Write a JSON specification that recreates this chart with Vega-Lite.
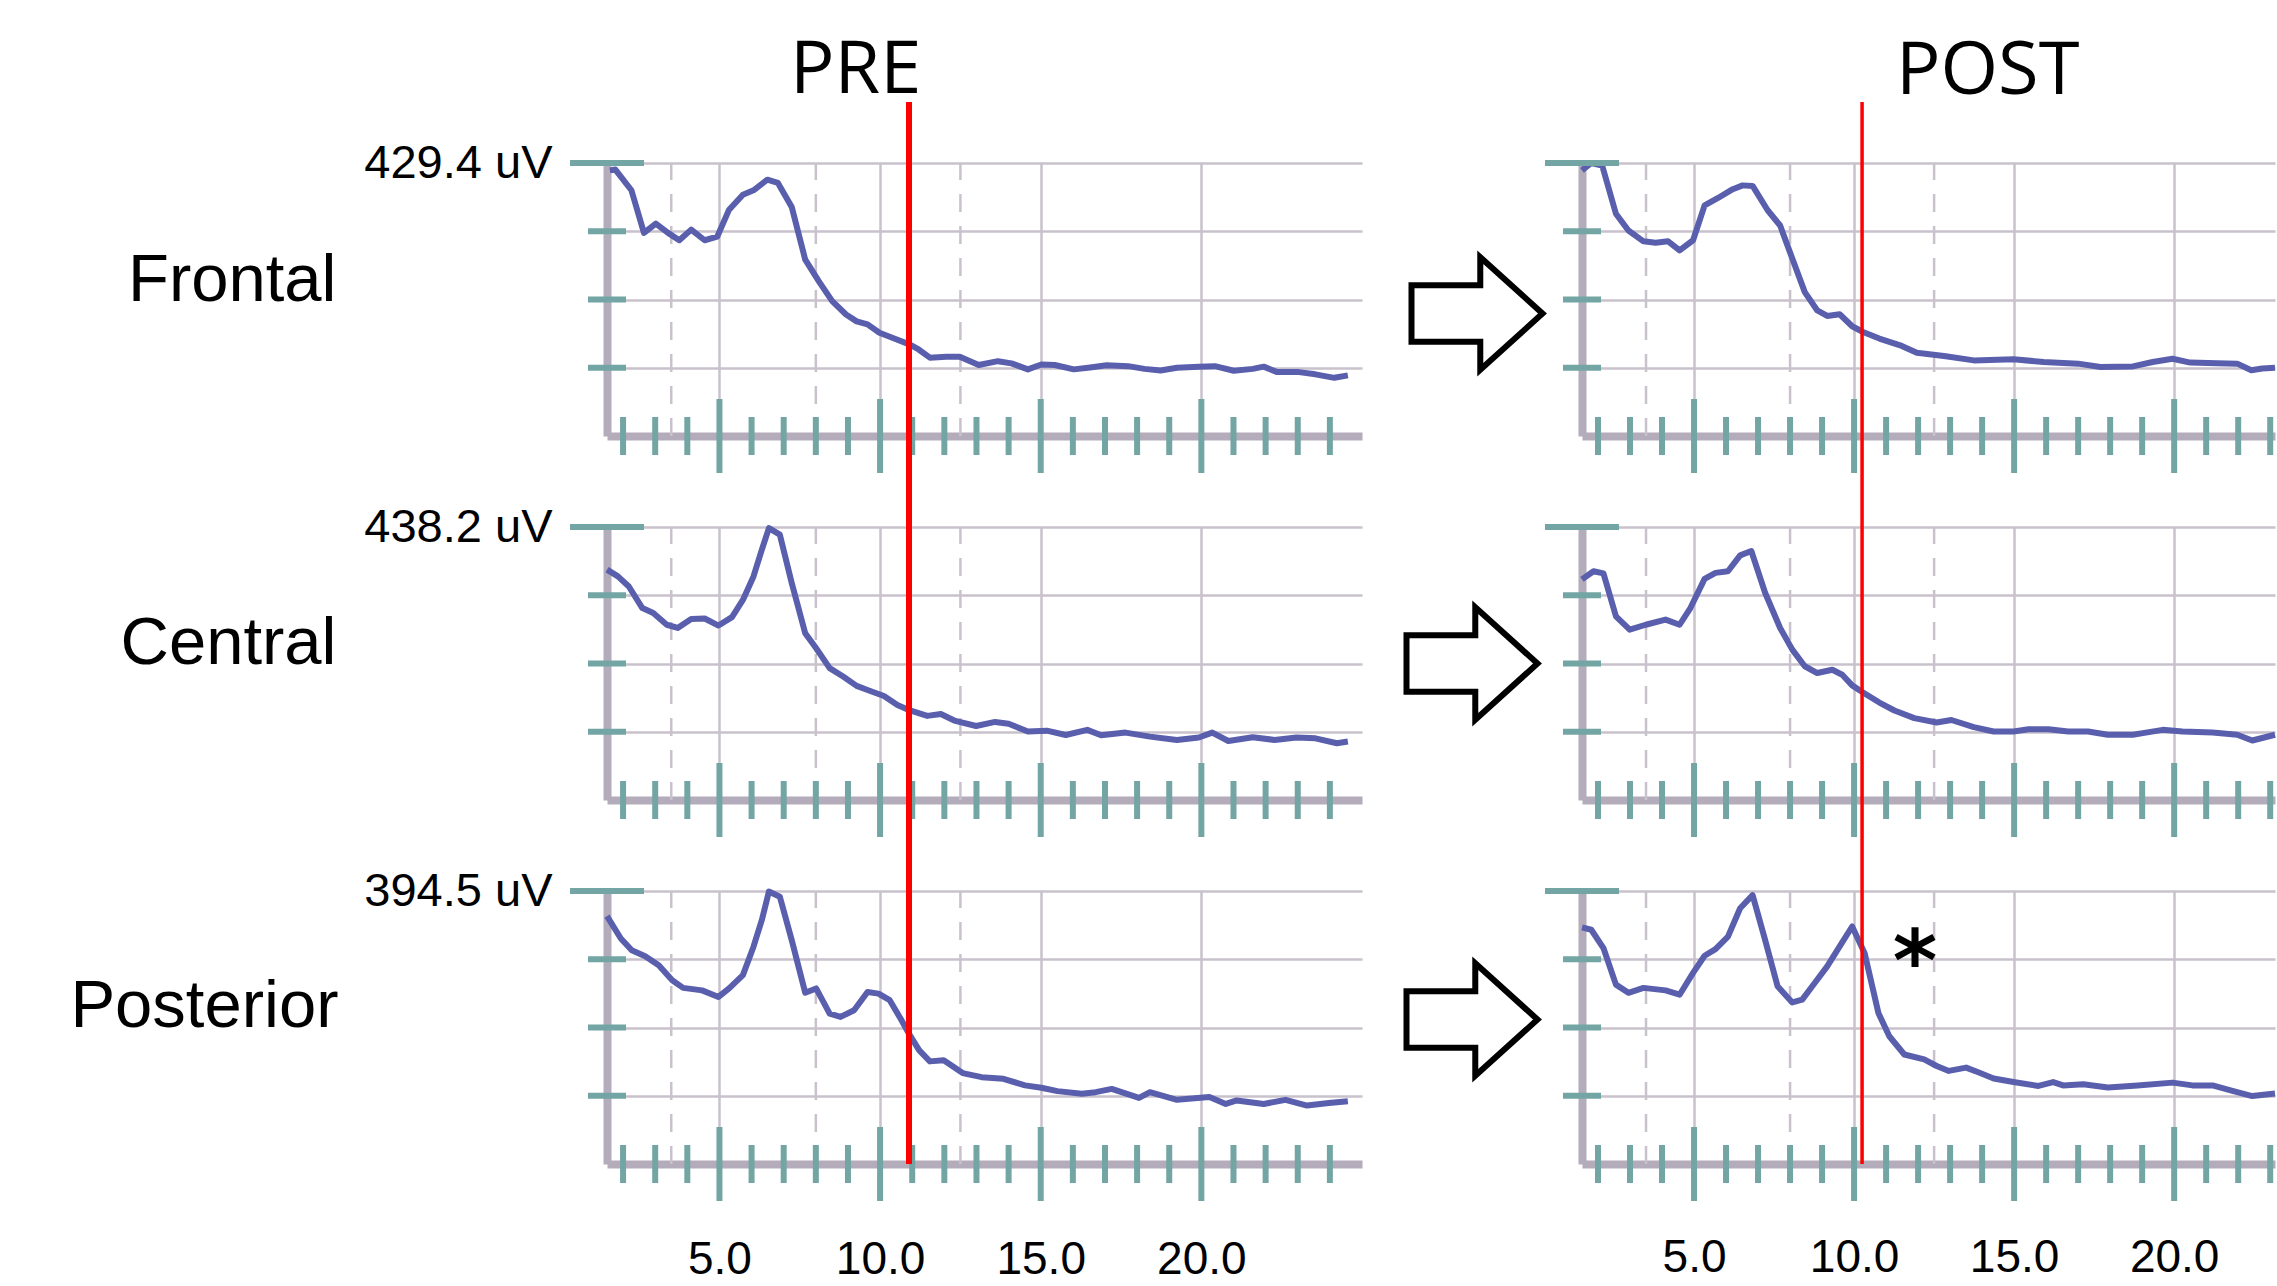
{
  "$schema": "https://vega.github.io/schema/vega-lite/v6.json",
  "background": "white",
  "padding": {"left": 69, "top": 33, "right": 0, "bottom": 0},
  "datasets": {
    "spectra": [
      {"cond":"PRE","region":"Frontal","freq":1.59,"uV":417.8},
      {"cond":"PRE","region":"Frontal","freq":1.76,"uV":419.1},
      {"cond":"PRE","region":"Frontal","freq":2.26,"uV":386.5},
      {"cond":"PRE","region":"Frontal","freq":2.65,"uV":319.5},
      {"cond":"PRE","region":"Frontal","freq":3.02,"uV":334.1},
      {"cond":"PRE","region":"Frontal","freq":3.4,"uV":319.5},
      {"cond":"PRE","region":"Frontal","freq":3.75,"uV":307.9},
      {"cond":"PRE","region":"Frontal","freq":4.12,"uV":324.6},
      {"cond":"PRE","region":"Frontal","freq":4.54,"uV":307.9},
      {"cond":"PRE","region":"Frontal","freq":4.93,"uV":313.5},
      {"cond":"PRE","region":"Frontal","freq":5.3,"uV":356.0},
      {"cond":"PRE","region":"Frontal","freq":5.73,"uV":379.6},
      {"cond":"PRE","region":"Frontal","freq":6.06,"uV":386.5},
      {"cond":"PRE","region":"Frontal","freq":6.49,"uV":403.2},
      {"cond":"PRE","region":"Frontal","freq":6.82,"uV":398.1},
      {"cond":"PRE","region":"Frontal","freq":7.25,"uV":360.3},
      {"cond":"PRE","region":"Frontal","freq":7.67,"uV":277.4},
      {"cond":"PRE","region":"Frontal","freq":8.09,"uV":243.5},
      {"cond":"PRE","region":"Frontal","freq":8.51,"uV":212.1},
      {"cond":"PRE","region":"Frontal","freq":8.94,"uV":191.1},
      {"cond":"PRE","region":"Frontal","freq":9.27,"uV":180.3},
      {"cond":"PRE","region":"Frontal","freq":9.61,"uV":175.6},
      {"cond":"PRE","region":"Frontal","freq":9.98,"uV":162.3},
      {"cond":"PRE","region":"Frontal","freq":10.46,"uV":152.9},
      {"cond":"PRE","region":"Frontal","freq":10.93,"uV":143.8},
      {"cond":"PRE","region":"Frontal","freq":11.2,"uV":136.1},
      {"cond":"PRE","region":"Frontal","freq":11.55,"uV":123.2},
      {"cond":"PRE","region":"Frontal","freq":12.06,"uV":124.5},
      {"cond":"PRE","region":"Frontal","freq":12.48,"uV":124.5},
      {"cond":"PRE","region":"Frontal","freq":13.07,"uV":111.6},
      {"cond":"PRE","region":"Frontal","freq":13.67,"uV":117.7},
      {"cond":"PRE","region":"Frontal","freq":14.09,"uV":114.2},
      {"cond":"PRE","region":"Frontal","freq":14.6,"uV":104.8},
      {"cond":"PRE","region":"Frontal","freq":15.02,"uV":112.5},
      {"cond":"PRE","region":"Frontal","freq":15.44,"uV":111.6},
      {"cond":"PRE","region":"Frontal","freq":16.03,"uV":104.8},
      {"cond":"PRE","region":"Frontal","freq":16.54,"uV":107.8},
      {"cond":"PRE","region":"Frontal","freq":17.05,"uV":111.2},
      {"cond":"PRE","region":"Frontal","freq":17.72,"uV":109.9},
      {"cond":"PRE","region":"Frontal","freq":18.23,"uV":105.6},
      {"cond":"PRE","region":"Frontal","freq":18.73,"uV":103.1},
      {"cond":"PRE","region":"Frontal","freq":19.24,"uV":107.4},
      {"cond":"PRE","region":"Frontal","freq":19.92,"uV":109.1},
      {"cond":"PRE","region":"Frontal","freq":20.42,"uV":109.9},
      {"cond":"PRE","region":"Frontal","freq":21.01,"uV":102.6},
      {"cond":"PRE","region":"Frontal","freq":21.6,"uV":105.6},
      {"cond":"PRE","region":"Frontal","freq":21.94,"uV":109.1},
      {"cond":"PRE","region":"Frontal","freq":22.36,"uV":100.5},
      {"cond":"PRE","region":"Frontal","freq":23.04,"uV":100.5},
      {"cond":"PRE","region":"Frontal","freq":23.55,"uV":97.0},
      {"cond":"PRE","region":"Frontal","freq":24.14,"uV":91.5},
      {"cond":"PRE","region":"Frontal","freq":24.56,"uV":95.3},
      {"cond":"PRE","region":"Central","freq":1.5,"uV":369.8},
      {"cond":"PRE","region":"Central","freq":1.84,"uV":358.9},
      {"cond":"PRE","region":"Central","freq":2.18,"uV":342.7},
      {"cond":"PRE","region":"Central","freq":2.6,"uV":308.1},
      {"cond":"PRE","region":"Central","freq":2.94,"uV":300.2},
      {"cond":"PRE","region":"Central","freq":3.36,"uV":281.3},
      {"cond":"PRE","region":"Central","freq":3.7,"uV":276.1},
      {"cond":"PRE","region":"Central","freq":4.12,"uV":290.5},
      {"cond":"PRE","region":"Central","freq":4.54,"uV":291.4},
      {"cond":"PRE","region":"Central","freq":4.97,"uV":280.0},
      {"cond":"PRE","region":"Central","freq":5.39,"uV":293.6},
      {"cond":"PRE","region":"Central","freq":5.73,"uV":321.2},
      {"cond":"PRE","region":"Central","freq":6.06,"uV":358.9},
      {"cond":"PRE","region":"Central","freq":6.32,"uV":401.8},
      {"cond":"PRE","region":"Central","freq":6.54,"uV":436.4},
      {"cond":"PRE","region":"Central","freq":6.88,"uV":425.9},
      {"cond":"PRE","region":"Central","freq":7.25,"uV":348.4},
      {"cond":"PRE","region":"Central","freq":7.67,"uV":267.7},
      {"cond":"PRE","region":"Central","freq":8.01,"uV":243.6},
      {"cond":"PRE","region":"Central","freq":8.43,"uV":211.7},
      {"cond":"PRE","region":"Central","freq":8.85,"uV":198.1},
      {"cond":"PRE","region":"Central","freq":9.27,"uV":183.2},
      {"cond":"PRE","region":"Central","freq":9.61,"uV":176.6},
      {"cond":"PRE","region":"Central","freq":10.12,"uV":167.0},
      {"cond":"PRE","region":"Central","freq":10.54,"uV":152.5},
      {"cond":"PRE","region":"Central","freq":10.93,"uV":143.7},
      {"cond":"PRE","region":"Central","freq":11.47,"uV":135.0},
      {"cond":"PRE","region":"Central","freq":11.89,"uV":138.0},
      {"cond":"PRE","region":"Central","freq":12.31,"uV":127.5},
      {"cond":"PRE","region":"Central","freq":12.99,"uV":118.8},
      {"cond":"PRE","region":"Central","freq":13.58,"uV":125.3},
      {"cond":"PRE","region":"Central","freq":14.0,"uV":122.3},
      {"cond":"PRE","region":"Central","freq":14.6,"uV":110.0},
      {"cond":"PRE","region":"Central","freq":15.19,"uV":111.3},
      {"cond":"PRE","region":"Central","freq":15.78,"uV":104.3},
      {"cond":"PRE","region":"Central","freq":16.45,"uV":112.6},
      {"cond":"PRE","region":"Central","freq":16.88,"uV":103.9},
      {"cond":"PRE","region":"Central","freq":17.64,"uV":108.2},
      {"cond":"PRE","region":"Central","freq":18.4,"uV":101.7},
      {"cond":"PRE","region":"Central","freq":19.24,"uV":96.4},
      {"cond":"PRE","region":"Central","freq":19.92,"uV":100.3},
      {"cond":"PRE","region":"Central","freq":20.34,"uV":108.2},
      {"cond":"PRE","region":"Central","freq":20.84,"uV":94.7},
      {"cond":"PRE","region":"Central","freq":21.6,"uV":100.8},
      {"cond":"PRE","region":"Central","freq":22.28,"uV":96.4},
      {"cond":"PRE","region":"Central","freq":22.96,"uV":100.3},
      {"cond":"PRE","region":"Central","freq":23.55,"uV":99.0},
      {"cond":"PRE","region":"Central","freq":24.22,"uV":91.1},
      {"cond":"PRE","region":"Central","freq":24.56,"uV":93.8},
      {"cond":"PRE","region":"Posterior","freq":1.5,"uV":358.2},
      {"cond":"PRE","region":"Posterior","freq":1.93,"uV":325.9},
      {"cond":"PRE","region":"Posterior","freq":2.27,"uV":308.9},
      {"cond":"PRE","region":"Posterior","freq":2.69,"uV":300.2},
      {"cond":"PRE","region":"Posterior","freq":3.11,"uV":287.2},
      {"cond":"PRE","region":"Posterior","freq":3.53,"uV":265.5},
      {"cond":"PRE","region":"Posterior","freq":3.87,"uV":254.5},
      {"cond":"PRE","region":"Posterior","freq":4.46,"uV":250.9},
      {"cond":"PRE","region":"Posterior","freq":4.97,"uV":241.4},
      {"cond":"PRE","region":"Posterior","freq":5.3,"uV":253.7},
      {"cond":"PRE","region":"Posterior","freq":5.73,"uV":273.0},
      {"cond":"PRE","region":"Posterior","freq":6.06,"uV":314.0},
      {"cond":"PRE","region":"Posterior","freq":6.32,"uV":352.7},
      {"cond":"PRE","region":"Posterior","freq":6.54,"uV":393.7},
      {"cond":"PRE","region":"Posterior","freq":6.88,"uV":386.2},
      {"cond":"PRE","region":"Posterior","freq":7.25,"uV":323.5},
      {"cond":"PRE","region":"Posterior","freq":7.67,"uV":247.4},
      {"cond":"PRE","region":"Posterior","freq":8.01,"uV":253.7},
      {"cond":"PRE","region":"Posterior","freq":8.43,"uV":217.4},
      {"cond":"PRE","region":"Posterior","freq":8.77,"uV":212.6},
      {"cond":"PRE","region":"Posterior","freq":9.19,"uV":222.1},
      {"cond":"PRE","region":"Posterior","freq":9.61,"uV":248.5},
      {"cond":"PRE","region":"Posterior","freq":9.95,"uV":246.2},
      {"cond":"PRE","region":"Posterior","freq":10.3,"uV":236.7},
      {"cond":"PRE","region":"Posterior","freq":10.64,"uV":209.9},
      {"cond":"PRE","region":"Posterior","freq":10.93,"uV":185.8},
      {"cond":"PRE","region":"Posterior","freq":11.22,"uV":164.1},
      {"cond":"PRE","region":"Posterior","freq":11.55,"uV":148.3},
      {"cond":"PRE","region":"Posterior","freq":11.98,"uV":149.9},
      {"cond":"PRE","region":"Posterior","freq":12.57,"uV":131.4},
      {"cond":"PRE","region":"Posterior","freq":13.16,"uV":125.5},
      {"cond":"PRE","region":"Posterior","freq":13.84,"uV":123.1},
      {"cond":"PRE","region":"Posterior","freq":14.51,"uV":113.6},
      {"cond":"PRE","region":"Posterior","freq":15.02,"uV":110.1},
      {"cond":"PRE","region":"Posterior","freq":15.52,"uV":105.3},
      {"cond":"PRE","region":"Posterior","freq":16.28,"uV":101.4},
      {"cond":"PRE","region":"Posterior","freq":16.71,"uV":103.8},
      {"cond":"PRE","region":"Posterior","freq":17.21,"uV":108.5},
      {"cond":"PRE","region":"Posterior","freq":18.06,"uV":95.5},
      {"cond":"PRE","region":"Posterior","freq":18.4,"uV":103.8},
      {"cond":"PRE","region":"Posterior","freq":19.24,"uV":92.7},
      {"cond":"PRE","region":"Posterior","freq":20.25,"uV":96.7},
      {"cond":"PRE","region":"Posterior","freq":20.76,"uV":86.8},
      {"cond":"PRE","region":"Posterior","freq":21.1,"uV":91.9},
      {"cond":"PRE","region":"Posterior","freq":21.94,"uV":86.8},
      {"cond":"PRE","region":"Posterior","freq":22.62,"uV":92.7},
      {"cond":"PRE","region":"Posterior","freq":23.29,"uV":84.4},
      {"cond":"PRE","region":"Posterior","freq":23.97,"uV":88.0},
      {"cond":"PRE","region":"Posterior","freq":24.56,"uV":90.7},
      {"cond":"POST","region":"Frontal","freq":1.5,"uV":417.8},
      {"cond":"POST","region":"Frontal","freq":1.79,"uV":429.4},
      {"cond":"POST","region":"Frontal","freq":2.13,"uV":425.5},
      {"cond":"POST","region":"Frontal","freq":2.56,"uV":349.5},
      {"cond":"POST","region":"Frontal","freq":2.95,"uV":323.3},
      {"cond":"POST","region":"Frontal","freq":3.42,"uV":306.2},
      {"cond":"POST","region":"Frontal","freq":3.8,"uV":304.0},
      {"cond":"POST","region":"Frontal","freq":4.19,"uV":306.2},
      {"cond":"POST","region":"Frontal","freq":4.55,"uV":292.0},
      {"cond":"POST","region":"Frontal","freq":4.97,"uV":307.9},
      {"cond":"POST","region":"Frontal","freq":5.33,"uV":362.8},
      {"cond":"POST","region":"Frontal","freq":5.75,"uV":374.4},
      {"cond":"POST","region":"Frontal","freq":6.21,"uV":388.2},
      {"cond":"POST","region":"Frontal","freq":6.52,"uV":394.2},
      {"cond":"POST","region":"Frontal","freq":6.83,"uV":393.3},
      {"cond":"POST","region":"Frontal","freq":7.3,"uV":355.1},
      {"cond":"POST","region":"Frontal","freq":7.69,"uV":331.1},
      {"cond":"POST","region":"Frontal","freq":8.07,"uV":279.1},
      {"cond":"POST","region":"Frontal","freq":8.46,"uV":226.3},
      {"cond":"POST","region":"Frontal","freq":8.85,"uV":197.5},
      {"cond":"POST","region":"Frontal","freq":9.16,"uV":188.9},
      {"cond":"POST","region":"Frontal","freq":9.55,"uV":191.5},
      {"cond":"POST","region":"Frontal","freq":9.94,"uV":172.6},
      {"cond":"POST","region":"Frontal","freq":10.28,"uV":163.6},
      {"cond":"POST","region":"Frontal","freq":10.79,"uV":153.3},
      {"cond":"POST","region":"Frontal","freq":11.49,"uV":141.7},
      {"cond":"POST","region":"Frontal","freq":11.96,"uV":131.0},
      {"cond":"POST","region":"Frontal","freq":12.81,"uV":125.8},
      {"cond":"POST","region":"Frontal","freq":13.74,"uV":118.9},
      {"cond":"POST","region":"Frontal","freq":14.98,"uV":120.7},
      {"cond":"POST","region":"Frontal","freq":15.92,"uV":116.4},
      {"cond":"POST","region":"Frontal","freq":17.0,"uV":113.8},
      {"cond":"POST","region":"Frontal","freq":17.7,"uV":108.6},
      {"cond":"POST","region":"Frontal","freq":18.71,"uV":109.5},
      {"cond":"POST","region":"Frontal","freq":19.33,"uV":116.4},
      {"cond":"POST","region":"Frontal","freq":19.95,"uV":121.5},
      {"cond":"POST","region":"Frontal","freq":20.5,"uV":115.5},
      {"cond":"POST","region":"Frontal","freq":21.35,"uV":114.6},
      {"cond":"POST","region":"Frontal","freq":21.97,"uV":113.8},
      {"cond":"POST","region":"Frontal","freq":22.41,"uV":103.5},
      {"cond":"POST","region":"Frontal","freq":22.75,"uV":106.1},
      {"cond":"POST","region":"Frontal","freq":23.15,"uV":107.4},
      {"cond":"POST","region":"Central","freq":1.5,"uV":354.1},
      {"cond":"POST","region":"Central","freq":1.86,"uV":367.2},
      {"cond":"POST","region":"Central","freq":2.17,"uV":363.7},
      {"cond":"POST","region":"Central","freq":2.56,"uV":294.9},
      {"cond":"POST","region":"Central","freq":2.99,"uV":273.4},
      {"cond":"POST","region":"Central","freq":3.49,"uV":281.3},
      {"cond":"POST","region":"Central","freq":4.11,"uV":289.6},
      {"cond":"POST","region":"Central","freq":4.55,"uV":281.3},
      {"cond":"POST","region":"Central","freq":4.89,"uV":308.5},
      {"cond":"POST","region":"Central","freq":5.33,"uV":354.9},
      {"cond":"POST","region":"Central","freq":5.67,"uV":364.6},
      {"cond":"POST","region":"Central","freq":6.06,"uV":367.2},
      {"cond":"POST","region":"Central","freq":6.44,"uV":392.6},
      {"cond":"POST","region":"Central","freq":6.79,"uV":399.6},
      {"cond":"POST","region":"Central","freq":7.22,"uV":332.6},
      {"cond":"POST","region":"Central","freq":7.69,"uV":276.1},
      {"cond":"POST","region":"Central","freq":8.07,"uV":241.4},
      {"cond":"POST","region":"Central","freq":8.46,"uV":214.7},
      {"cond":"POST","region":"Central","freq":8.85,"uV":203.8},
      {"cond":"POST","region":"Central","freq":9.32,"uV":209.0},
      {"cond":"POST","region":"Central","freq":9.63,"uV":201.1},
      {"cond":"POST","region":"Central","freq":9.94,"uV":184.0},
      {"cond":"POST","region":"Central","freq":10.28,"uV":172.7},
      {"cond":"POST","region":"Central","freq":10.79,"uV":156.4},
      {"cond":"POST","region":"Central","freq":11.26,"uV":143.7},
      {"cond":"POST","region":"Central","freq":11.88,"uV":131.5},
      {"cond":"POST","region":"Central","freq":12.58,"uV":124.4},
      {"cond":"POST","region":"Central","freq":13.04,"uV":128.4},
      {"cond":"POST","region":"Central","freq":13.74,"uV":117.0},
      {"cond":"POST","region":"Central","freq":14.36,"uV":110.0},
      {"cond":"POST","region":"Central","freq":14.98,"uV":110.0},
      {"cond":"POST","region":"Central","freq":15.45,"uV":113.5},
      {"cond":"POST","region":"Central","freq":16.07,"uV":113.5},
      {"cond":"POST","region":"Central","freq":16.69,"uV":110.0},
      {"cond":"POST","region":"Central","freq":17.31,"uV":110.0},
      {"cond":"POST","region":"Central","freq":17.93,"uV":104.7},
      {"cond":"POST","region":"Central","freq":18.71,"uV":104.7},
      {"cond":"POST","region":"Central","freq":19.02,"uV":107.4},
      {"cond":"POST","region":"Central","freq":19.64,"uV":112.6},
      {"cond":"POST","region":"Central","freq":20.26,"uV":110.0},
      {"cond":"POST","region":"Central","freq":21.2,"uV":108.2},
      {"cond":"POST","region":"Central","freq":21.97,"uV":104.7},
      {"cond":"POST","region":"Central","freq":22.44,"uV":95.5},
      {"cond":"POST","region":"Central","freq":23.15,"uV":104.7},
      {"cond":"POST","region":"Posterior","freq":1.5,"uV":342.0},
      {"cond":"POST","region":"Posterior","freq":1.79,"uV":338.5},
      {"cond":"POST","region":"Posterior","freq":2.17,"uV":312.0},
      {"cond":"POST","region":"Posterior","freq":2.56,"uV":259.2},
      {"cond":"POST","region":"Posterior","freq":2.95,"uV":247.4},
      {"cond":"POST","region":"Posterior","freq":3.42,"uV":254.5},
      {"cond":"POST","region":"Posterior","freq":4.11,"uV":250.9},
      {"cond":"POST","region":"Posterior","freq":4.55,"uV":244.6},
      {"cond":"POST","region":"Posterior","freq":4.97,"uV":276.2},
      {"cond":"POST","region":"Posterior","freq":5.33,"uV":301.0},
      {"cond":"POST","region":"Posterior","freq":5.67,"uV":310.5},
      {"cond":"POST","region":"Posterior","freq":6.06,"uV":328.6},
      {"cond":"POST","region":"Posterior","freq":6.44,"uV":369.6},
      {"cond":"POST","region":"Posterior","freq":6.83,"uV":388.6},
      {"cond":"POST","region":"Posterior","freq":7.22,"uV":323.9},
      {"cond":"POST","region":"Posterior","freq":7.61,"uV":256.8},
      {"cond":"POST","region":"Posterior","freq":8.07,"uV":233.5},
      {"cond":"POST","region":"Posterior","freq":8.38,"uV":237.5},
      {"cond":"POST","region":"Posterior","freq":8.77,"uV":261.6},
      {"cond":"POST","region":"Posterior","freq":9.16,"uV":285.6},
      {"cond":"POST","region":"Posterior","freq":9.55,"uV":314.4},
      {"cond":"POST","region":"Posterior","freq":9.94,"uV":343.2},
      {"cond":"POST","region":"Posterior","freq":10.33,"uV":304.6},
      {"cond":"POST","region":"Posterior","freq":10.76,"uV":218.2},
      {"cond":"POST","region":"Posterior","freq":11.1,"uV":184.6},
      {"cond":"POST","region":"Posterior","freq":11.57,"uV":158.2},
      {"cond":"POST","region":"Posterior","freq":12.19,"uV":151.1},
      {"cond":"POST","region":"Posterior","freq":12.58,"uV":141.6},
      {"cond":"POST","region":"Posterior","freq":12.96,"uV":134.5},
      {"cond":"POST","region":"Posterior","freq":13.5,"uV":139.3},
      {"cond":"POST","region":"Posterior","freq":13.9,"uV":132.2},
      {"cond":"POST","region":"Posterior","freq":14.36,"uV":123.5},
      {"cond":"POST","region":"Posterior","freq":14.98,"uV":118.4},
      {"cond":"POST","region":"Posterior","freq":15.76,"uV":112.8},
      {"cond":"POST","region":"Posterior","freq":16.22,"uV":118.4},
      {"cond":"POST","region":"Posterior","freq":16.53,"uV":113.6},
      {"cond":"POST","region":"Posterior","freq":17.16,"uV":115.2},
      {"cond":"POST","region":"Posterior","freq":17.93,"uV":110.5},
      {"cond":"POST","region":"Posterior","freq":18.86,"uV":113.6},
      {"cond":"POST","region":"Posterior","freq":19.95,"uV":117.6},
      {"cond":"POST","region":"Posterior","freq":20.57,"uV":113.6},
      {"cond":"POST","region":"Posterior","freq":21.2,"uV":113.6},
      {"cond":"POST","region":"Posterior","freq":21.82,"uV":105.7},
      {"cond":"POST","region":"Posterior","freq":22.44,"uV":98.2},
      {"cond":"POST","region":"Posterior","freq":23.15,"uV":101.8}
    ],
    "xticks": [
      {"freq":2,"kind":"minor"},{"freq":3,"kind":"minor"},{"freq":4,"kind":"minor"},{"freq":5,"kind":"major"},
      {"freq":6,"kind":"minor"},{"freq":7,"kind":"minor"},{"freq":8,"kind":"minor"},{"freq":9,"kind":"minor"},
      {"freq":10,"kind":"major"},{"freq":11,"kind":"minor"},{"freq":12,"kind":"minor"},{"freq":13,"kind":"minor"},
      {"freq":14,"kind":"minor"},{"freq":15,"kind":"major"},{"freq":16,"kind":"minor"},{"freq":17,"kind":"minor"},
      {"freq":18,"kind":"minor"},{"freq":19,"kind":"minor"},{"freq":20,"kind":"major"},{"freq":21,"kind":"minor"},
      {"freq":22,"kind":"minor"},{"freq":23,"kind":"minor"},{"freq":24,"kind":"minor"}
    ],
    "yticks": [
      {"region":"Frontal","uV":107.35,"kind":"minor"},{"region":"Frontal","uV":214.7,"kind":"minor"},
      {"region":"Frontal","uV":322.05,"kind":"minor"},{"region":"Frontal","uV":429.4,"kind":"major"},
      {"region":"Central","uV":109.55,"kind":"minor"},{"region":"Central","uV":219.1,"kind":"minor"},
      {"region":"Central","uV":328.65,"kind":"minor"},{"region":"Central","uV":438.2,"kind":"major"},
      {"region":"Posterior","uV":98.625,"kind":"minor"},{"region":"Posterior","uV":197.25,"kind":"minor"},
      {"region":"Posterior","uV":295.875,"kind":"minor"},{"region":"Posterior","uV":394.5,"kind":"major"}
    ],
    "boundaries": [{"freq":3.5},{"freq":8},{"freq":12.5}],
    "markers": [{"cond":"PRE","freq":10.9},{"cond":"POST","freq":10.25}],
    "notes": [{"cond":"POST","region":"Posterior","freq":11.9,"uV":307.7,"text":"*"}],
    "arrows": [{"region":"Frontal"},{"region":"Central"},{"region":"Posterior"}]
  },
  "config": {
    "view": {"stroke": null},
    "axis": {
      "domainColor": "#b4acba", "domainWidth": 8,
      "gridColor": "#c9c2cd", "gridWidth": 2.5,
      "ticks": false,
      "labelFont": "Liberation Sans", "labelColor": "#000000", "labelFontSize": 46, "labelLimit": 0,
      "titleFont": "Liberation Sans", "titleColor": "#000000", "titleFontWeight": "normal", "titleLimit": 0
    }
  },
  "columns": 3,
  "spacing": {"row": 91, "column": 0},
  "bounds": "flush",
  "concat": [
    {
      "width": 755, "height": 273,
      "title": {"text": "PRE", "anchor": "start", "frame": "group", "dx": 183, "offset": -68, "baseline": "alphabetic", "font": "Open Sans", "fontSize": 74, "fontWeight": "normal", "color": "#000000"},
      "layer": [
        {"data": {"name": "boundaries"}, "mark": {"type": "rule", "color": "#c9c2cd", "strokeWidth": 2.5, "strokeDash": [18, 14]},
         "encoding": {"x": {"field": "freq", "type": "quantitative", "scale": {"domain": [1.5, 25], "nice": false, "zero": false},
                      "axis": {"values": [5, 10, 15, 20], "grid": true, "labels": false, "title": null}},
                      "y": {"datum": 0, "type": "quantitative", "scale": {"domain": [0, 429.4], "nice": false},
                      "axis": {"values": [107.35, 214.7, 322.05, 429.4], "grid": true, "labelExpr": "datum.value == 429.4 ? '429.4 uV' : ''", "labelFontSize": 47, "labelPadding": 55, "labelBaseline": "middle", "labelOverlap": false, "labelFlush": false, "title": "Frontal", "titleAngle": 0, "titleAlign": "right", "titleBaseline": "alphabetic", "titleX": -271, "titleY": 137, "titleFontSize": 67}},
                      "y2": {"datum": 429.4}}},
        {"data": {"name": "spectra"}, "transform": [{"filter": "datum.cond == 'PRE' && datum.region == 'Frontal'"}],
         "mark": {"type": "line", "color": "#5a5fad", "strokeWidth": 6, "strokeJoin": "round"},
         "encoding": {"x": {"field": "freq", "type": "quantitative"}, "y": {"field": "uV", "type": "quantitative"}}},
        {"data": {"name": "xticks"}, "transform": [{"filter": "datum.kind == 'minor'"}], "mark": {"type": "tick", "orient": "vertical", "color": "#72a5a3", "thickness": 6, "size": 38, "opacity": 1},
         "encoding": {"x": {"field": "freq", "type": "quantitative"}, "y": {"datum": 0, "type": "quantitative"}}},
        {"data": {"name": "xticks"}, "transform": [{"filter": "datum.kind == 'major'"}], "mark": {"type": "tick", "orient": "vertical", "color": "#72a5a3", "thickness": 6, "size": 74, "opacity": 1},
         "encoding": {"x": {"field": "freq", "type": "quantitative"}, "y": {"datum": 0, "type": "quantitative"}}},
        {"data": {"name": "yticks"}, "transform": [{"filter": "datum.region == 'Frontal' && datum.kind == 'minor'"}], "mark": {"type": "tick", "orient": "horizontal", "color": "#72a5a3", "thickness": 6, "size": 38, "opacity": 1},
         "encoding": {"x": {"datum": 1.5, "type": "quantitative"}, "y": {"field": "uV", "type": "quantitative"}}},
        {"data": {"name": "yticks"}, "transform": [{"filter": "datum.region == 'Frontal' && datum.kind == 'major'"}], "mark": {"type": "tick", "orient": "horizontal", "color": "#72a5a3", "thickness": 6, "size": 74, "opacity": 1},
         "encoding": {"x": {"datum": 1.5, "type": "quantitative"}, "y": {"field": "uV", "type": "quantitative"}}},
        {"data": {"name": "markers"}, "transform": [{"filter": "datum.cond == 'PRE'"}], "mark": {"type": "rule", "color": "#ff0000", "strokeWidth": 6},
         "encoding": {"x": {"field": "freq", "type": "quantitative"}, "y": {"datum": 0, "type": "quantitative"}, "y2": {"datum": 525.4}}}
      ]
    },
    {
      "width": 220, "height": 273,
      "data": {"name": "arrows"}, "transform": [{"filter": "datum.region == 'Frontal'"}],
      "mark": {"type": "point", "shape": "M -1 -0.43 L 0.05 -0.43 L 0.05 -0.86 L 1 0 L 0.05 0.86 L 0.05 0.43 L -1 0.43 Z", "size": 17161, "filled": true, "fill": "#ffffff", "stroke": "#000000", "strokeWidth": 6, "strokeJoin": "miter", "opacity": 1, "xOffset": 5, "yOffset": 14},
      "encoding": {}
    },
    {
      "width": 693, "height": 273,
      "title": {"text": "POST", "anchor": "start", "frame": "group", "dx": 314, "offset": -68, "baseline": "alphabetic", "font": "Open Sans", "fontSize": 74, "fontWeight": "normal", "color": "#000000"},
      "layer": [
        {"data": {"name": "boundaries"}, "mark": {"type": "rule", "color": "#c9c2cd", "strokeWidth": 2.5, "strokeDash": [18, 14]},
         "encoding": {"x": {"field": "freq", "type": "quantitative", "scale": {"domain": [1.5, 23.15], "nice": false, "zero": false},
                      "axis": {"values": [5, 10, 15, 20], "grid": true, "labels": false, "title": null}},
                      "y": {"datum": 0, "type": "quantitative", "scale": {"domain": [0, 429.4], "nice": false},
                      "axis": {"values": [107.35, 214.7, 322.05, 429.4], "grid": true, "labels": false, "title": null}},
                      "y2": {"datum": 429.4}}},
        {"data": {"name": "spectra"}, "transform": [{"filter": "datum.cond == 'POST' && datum.region == 'Frontal'"}],
         "mark": {"type": "line", "color": "#5a5fad", "strokeWidth": 6, "strokeJoin": "round"},
         "encoding": {"x": {"field": "freq", "type": "quantitative"}, "y": {"field": "uV", "type": "quantitative"}}},
        {"data": {"name": "xticks"}, "transform": [{"filter": "datum.kind == 'minor' && datum.freq <= 23"}], "mark": {"type": "tick", "orient": "vertical", "color": "#72a5a3", "thickness": 6, "size": 38, "opacity": 1},
         "encoding": {"x": {"field": "freq", "type": "quantitative"}, "y": {"datum": 0, "type": "quantitative"}}},
        {"data": {"name": "xticks"}, "transform": [{"filter": "datum.kind == 'major'"}], "mark": {"type": "tick", "orient": "vertical", "color": "#72a5a3", "thickness": 6, "size": 74, "opacity": 1},
         "encoding": {"x": {"field": "freq", "type": "quantitative"}, "y": {"datum": 0, "type": "quantitative"}}},
        {"data": {"name": "yticks"}, "transform": [{"filter": "datum.region == 'Frontal' && datum.kind == 'minor'"}], "mark": {"type": "tick", "orient": "horizontal", "color": "#72a5a3", "thickness": 6, "size": 38, "opacity": 1},
         "encoding": {"x": {"datum": 1.5, "type": "quantitative"}, "y": {"field": "uV", "type": "quantitative"}}},
        {"data": {"name": "yticks"}, "transform": [{"filter": "datum.region == 'Frontal' && datum.kind == 'major'"}], "mark": {"type": "tick", "orient": "horizontal", "color": "#72a5a3", "thickness": 6, "size": 74, "opacity": 1},
         "encoding": {"x": {"datum": 1.5, "type": "quantitative"}, "y": {"field": "uV", "type": "quantitative"}}},
        {"data": {"name": "markers"}, "transform": [{"filter": "datum.cond == 'POST'"}], "mark": {"type": "rule", "color": "#ff0000", "strokeWidth": 3.5},
         "encoding": {"x": {"field": "freq", "type": "quantitative"}, "y": {"datum": 0, "type": "quantitative"}, "y2": {"datum": 525.4}}}
      ]
    },
    {
      "width": 755, "height": 273,
      "layer": [
        {"data": {"name": "boundaries"}, "mark": {"type": "rule", "color": "#c9c2cd", "strokeWidth": 2.5, "strokeDash": [18, 14]},
         "encoding": {"x": {"field": "freq", "type": "quantitative", "scale": {"domain": [1.5, 25], "nice": false, "zero": false},
                      "axis": {"values": [5, 10, 15, 20], "grid": true, "labels": false, "title": null}},
                      "y": {"datum": 0, "type": "quantitative", "scale": {"domain": [0, 438.2], "nice": false},
                      "axis": {"values": [109.55, 219.1, 328.65, 438.2], "grid": true, "labelExpr": "datum.value == 438.2 ? '438.2 uV' : ''", "labelFontSize": 47, "labelPadding": 55, "labelBaseline": "middle", "labelOverlap": false, "labelFlush": false, "title": "Central", "titleAngle": 0, "titleAlign": "right", "titleBaseline": "alphabetic", "titleX": -271, "titleY": 136, "titleFontSize": 67}},
                      "y2": {"datum": 438.2}}},
        {"data": {"name": "spectra"}, "transform": [{"filter": "datum.cond == 'PRE' && datum.region == 'Central'"}],
         "mark": {"type": "line", "color": "#5a5fad", "strokeWidth": 6, "strokeJoin": "round"},
         "encoding": {"x": {"field": "freq", "type": "quantitative"}, "y": {"field": "uV", "type": "quantitative"}}},
        {"data": {"name": "xticks"}, "transform": [{"filter": "datum.kind == 'minor'"}], "mark": {"type": "tick", "orient": "vertical", "color": "#72a5a3", "thickness": 6, "size": 38, "opacity": 1},
         "encoding": {"x": {"field": "freq", "type": "quantitative"}, "y": {"datum": 0, "type": "quantitative"}}},
        {"data": {"name": "xticks"}, "transform": [{"filter": "datum.kind == 'major'"}], "mark": {"type": "tick", "orient": "vertical", "color": "#72a5a3", "thickness": 6, "size": 74, "opacity": 1},
         "encoding": {"x": {"field": "freq", "type": "quantitative"}, "y": {"datum": 0, "type": "quantitative"}}},
        {"data": {"name": "yticks"}, "transform": [{"filter": "datum.region == 'Central' && datum.kind == 'minor'"}], "mark": {"type": "tick", "orient": "horizontal", "color": "#72a5a3", "thickness": 6, "size": 38, "opacity": 1},
         "encoding": {"x": {"datum": 1.5, "type": "quantitative"}, "y": {"field": "uV", "type": "quantitative"}}},
        {"data": {"name": "yticks"}, "transform": [{"filter": "datum.region == 'Central' && datum.kind == 'major'"}], "mark": {"type": "tick", "orient": "horizontal", "color": "#72a5a3", "thickness": 6, "size": 74, "opacity": 1},
         "encoding": {"x": {"datum": 1.5, "type": "quantitative"}, "y": {"field": "uV", "type": "quantitative"}}},
        {"data": {"name": "markers"}, "transform": [{"filter": "datum.cond == 'PRE'"}], "mark": {"type": "rule", "color": "#ff0000", "strokeWidth": 6},
         "encoding": {"x": {"field": "freq", "type": "quantitative"}, "y": {"datum": 0, "type": "quantitative"}, "y2": {"datum": 584.3}}}
      ]
    },
    {
      "width": 220, "height": 273,
      "data": {"name": "arrows"}, "transform": [{"filter": "datum.region == 'Central'"}],
      "mark": {"type": "point", "shape": "M -1 -0.43 L 0.05 -0.43 L 0.05 -0.86 L 1 0 L 0.05 0.86 L 0.05 0.43 L -1 0.43 Z", "size": 17161, "filled": true, "fill": "#ffffff", "stroke": "#000000", "strokeWidth": 6, "strokeJoin": "miter", "opacity": 1},
      "encoding": {}
    },
    {
      "width": 693, "height": 273,
      "layer": [
        {"data": {"name": "boundaries"}, "mark": {"type": "rule", "color": "#c9c2cd", "strokeWidth": 2.5, "strokeDash": [18, 14]},
         "encoding": {"x": {"field": "freq", "type": "quantitative", "scale": {"domain": [1.5, 23.15], "nice": false, "zero": false},
                      "axis": {"values": [5, 10, 15, 20], "grid": true, "labels": false, "title": null}},
                      "y": {"datum": 0, "type": "quantitative", "scale": {"domain": [0, 438.2], "nice": false},
                      "axis": {"values": [109.55, 219.1, 328.65, 438.2], "grid": true, "labels": false, "title": null}},
                      "y2": {"datum": 438.2}}},
        {"data": {"name": "spectra"}, "transform": [{"filter": "datum.cond == 'POST' && datum.region == 'Central'"}],
         "mark": {"type": "line", "color": "#5a5fad", "strokeWidth": 6, "strokeJoin": "round"},
         "encoding": {"x": {"field": "freq", "type": "quantitative"}, "y": {"field": "uV", "type": "quantitative"}}},
        {"data": {"name": "xticks"}, "transform": [{"filter": "datum.kind == 'minor' && datum.freq <= 23"}], "mark": {"type": "tick", "orient": "vertical", "color": "#72a5a3", "thickness": 6, "size": 38, "opacity": 1},
         "encoding": {"x": {"field": "freq", "type": "quantitative"}, "y": {"datum": 0, "type": "quantitative"}}},
        {"data": {"name": "xticks"}, "transform": [{"filter": "datum.kind == 'major'"}], "mark": {"type": "tick", "orient": "vertical", "color": "#72a5a3", "thickness": 6, "size": 74, "opacity": 1},
         "encoding": {"x": {"field": "freq", "type": "quantitative"}, "y": {"datum": 0, "type": "quantitative"}}},
        {"data": {"name": "yticks"}, "transform": [{"filter": "datum.region == 'Central' && datum.kind == 'minor'"}], "mark": {"type": "tick", "orient": "horizontal", "color": "#72a5a3", "thickness": 6, "size": 38, "opacity": 1},
         "encoding": {"x": {"datum": 1.5, "type": "quantitative"}, "y": {"field": "uV", "type": "quantitative"}}},
        {"data": {"name": "yticks"}, "transform": [{"filter": "datum.region == 'Central' && datum.kind == 'major'"}], "mark": {"type": "tick", "orient": "horizontal", "color": "#72a5a3", "thickness": 6, "size": 74, "opacity": 1},
         "encoding": {"x": {"datum": 1.5, "type": "quantitative"}, "y": {"field": "uV", "type": "quantitative"}}},
        {"data": {"name": "markers"}, "transform": [{"filter": "datum.cond == 'POST'"}], "mark": {"type": "rule", "color": "#ff0000", "strokeWidth": 3.5},
         "encoding": {"x": {"field": "freq", "type": "quantitative"}, "y": {"datum": 0, "type": "quantitative"}, "y2": {"datum": 584.3}}}
      ]
    },
    {
      "width": 755, "height": 273,
      "layer": [
        {"data": {"name": "boundaries"}, "mark": {"type": "rule", "color": "#c9c2cd", "strokeWidth": 2.5, "strokeDash": [18, 14]},
         "encoding": {"x": {"field": "freq", "type": "quantitative", "scale": {"domain": [1.5, 25], "nice": false, "zero": false},
                      "axis": {"values": [5, 10, 15, 20], "grid": true, "labels": true, "labelExpr": "format(datum.value, '.1f')", "labelBaseline": "alphabetic", "labelPadding": 109, "labelFontSize": 46, "labelOverlap": false, "labelFlush": false, "title": null}},
                      "y": {"datum": 0, "type": "quantitative", "scale": {"domain": [0, 394.5], "nice": false},
                      "axis": {"values": [98.625, 197.25, 295.875, 394.5], "grid": true, "labelExpr": "datum.value == 394.5 ? '394.5 uV' : ''", "labelFontSize": 47, "labelPadding": 55, "labelBaseline": "middle", "labelOverlap": false, "labelFlush": false, "title": "Posterior", "titleAngle": 0, "titleAlign": "right", "titleBaseline": "alphabetic", "titleX": -269, "titleY": 135, "titleFontSize": 67}},
                      "y2": {"datum": 394.5}}},
        {"data": {"name": "spectra"}, "transform": [{"filter": "datum.cond == 'PRE' && datum.region == 'Posterior'"}],
         "mark": {"type": "line", "color": "#5a5fad", "strokeWidth": 6, "strokeJoin": "round"},
         "encoding": {"x": {"field": "freq", "type": "quantitative"}, "y": {"field": "uV", "type": "quantitative"}}},
        {"data": {"name": "xticks"}, "transform": [{"filter": "datum.kind == 'minor'"}], "mark": {"type": "tick", "orient": "vertical", "color": "#72a5a3", "thickness": 6, "size": 38, "opacity": 1},
         "encoding": {"x": {"field": "freq", "type": "quantitative"}, "y": {"datum": 0, "type": "quantitative"}}},
        {"data": {"name": "xticks"}, "transform": [{"filter": "datum.kind == 'major'"}], "mark": {"type": "tick", "orient": "vertical", "color": "#72a5a3", "thickness": 6, "size": 74, "opacity": 1},
         "encoding": {"x": {"field": "freq", "type": "quantitative"}, "y": {"datum": 0, "type": "quantitative"}}},
        {"data": {"name": "yticks"}, "transform": [{"filter": "datum.region == 'Posterior' && datum.kind == 'minor'"}], "mark": {"type": "tick", "orient": "horizontal", "color": "#72a5a3", "thickness": 6, "size": 38, "opacity": 1},
         "encoding": {"x": {"datum": 1.5, "type": "quantitative"}, "y": {"field": "uV", "type": "quantitative"}}},
        {"data": {"name": "yticks"}, "transform": [{"filter": "datum.region == 'Posterior' && datum.kind == 'major'"}], "mark": {"type": "tick", "orient": "horizontal", "color": "#72a5a3", "thickness": 6, "size": 74, "opacity": 1},
         "encoding": {"x": {"datum": 1.5, "type": "quantitative"}, "y": {"field": "uV", "type": "quantitative"}}},
        {"data": {"name": "markers"}, "transform": [{"filter": "datum.cond == 'PRE'"}], "mark": {"type": "rule", "color": "#ff0000", "strokeWidth": 6},
         "encoding": {"x": {"field": "freq", "type": "quantitative"}, "y": {"datum": 0, "type": "quantitative"}, "y2": {"datum": 526.0}}}
      ]
    },
    {
      "width": 220, "height": 273,
      "data": {"name": "arrows"}, "transform": [{"filter": "datum.region == 'Posterior'"}],
      "mark": {"type": "point", "shape": "M -1 -0.43 L 0.05 -0.43 L 0.05 -0.86 L 1 0 L 0.05 0.86 L 0.05 0.43 L -1 0.43 Z", "size": 17161, "filled": true, "fill": "#ffffff", "stroke": "#000000", "strokeWidth": 6, "strokeJoin": "miter", "opacity": 1, "yOffset": -8},
      "encoding": {}
    },
    {
      "width": 693, "height": 273,
      "layer": [
        {"data": {"name": "boundaries"}, "mark": {"type": "rule", "color": "#c9c2cd", "strokeWidth": 2.5, "strokeDash": [18, 14]},
         "encoding": {"x": {"field": "freq", "type": "quantitative", "scale": {"domain": [1.5, 23.15], "nice": false, "zero": false},
                      "axis": {"values": [5, 10, 15, 20], "grid": true, "labels": true, "labelExpr": "format(datum.value, '.1f')", "labelBaseline": "alphabetic", "labelPadding": 107, "labelFontSize": 46, "labelOverlap": false, "labelFlush": false, "title": null}},
                      "y": {"datum": 0, "type": "quantitative", "scale": {"domain": [0, 394.5], "nice": false},
                      "axis": {"values": [98.625, 197.25, 295.875, 394.5], "grid": true, "labels": false, "title": null}},
                      "y2": {"datum": 394.5}}},
        {"data": {"name": "spectra"}, "transform": [{"filter": "datum.cond == 'POST' && datum.region == 'Posterior'"}],
         "mark": {"type": "line", "color": "#5a5fad", "strokeWidth": 6, "strokeJoin": "round"},
         "encoding": {"x": {"field": "freq", "type": "quantitative"}, "y": {"field": "uV", "type": "quantitative"}}},
        {"data": {"name": "xticks"}, "transform": [{"filter": "datum.kind == 'minor' && datum.freq <= 23"}], "mark": {"type": "tick", "orient": "vertical", "color": "#72a5a3", "thickness": 6, "size": 38, "opacity": 1},
         "encoding": {"x": {"field": "freq", "type": "quantitative"}, "y": {"datum": 0, "type": "quantitative"}}},
        {"data": {"name": "xticks"}, "transform": [{"filter": "datum.kind == 'major'"}], "mark": {"type": "tick", "orient": "vertical", "color": "#72a5a3", "thickness": 6, "size": 74, "opacity": 1},
         "encoding": {"x": {"field": "freq", "type": "quantitative"}, "y": {"datum": 0, "type": "quantitative"}}},
        {"data": {"name": "yticks"}, "transform": [{"filter": "datum.region == 'Posterior' && datum.kind == 'minor'"}], "mark": {"type": "tick", "orient": "horizontal", "color": "#72a5a3", "thickness": 6, "size": 38, "opacity": 1},
         "encoding": {"x": {"datum": 1.5, "type": "quantitative"}, "y": {"field": "uV", "type": "quantitative"}}},
        {"data": {"name": "yticks"}, "transform": [{"filter": "datum.region == 'Posterior' && datum.kind == 'major'"}], "mark": {"type": "tick", "orient": "horizontal", "color": "#72a5a3", "thickness": 6, "size": 74, "opacity": 1},
         "encoding": {"x": {"datum": 1.5, "type": "quantitative"}, "y": {"field": "uV", "type": "quantitative"}}},
        {"data": {"name": "markers"}, "transform": [{"filter": "datum.cond == 'POST'"}], "mark": {"type": "rule", "color": "#ff0000", "strokeWidth": 3.5},
         "encoding": {"x": {"field": "freq", "type": "quantitative"}, "y": {"datum": 0, "type": "quantitative"}, "y2": {"datum": 526.0}}},
        {"data": {"name": "notes"}, "mark": {"type": "text", "font": "DejaVu Sans", "fontWeight": "bold", "fontSize": 85, "color": "#000000", "baseline": "alphabetic", "align": "center", "dy": 40},
         "encoding": {"x": {"field": "freq", "type": "quantitative"}, "y": {"field": "uV", "type": "quantitative"}, "text": {"field": "text"}}}
      ]
    }
  ]
}
